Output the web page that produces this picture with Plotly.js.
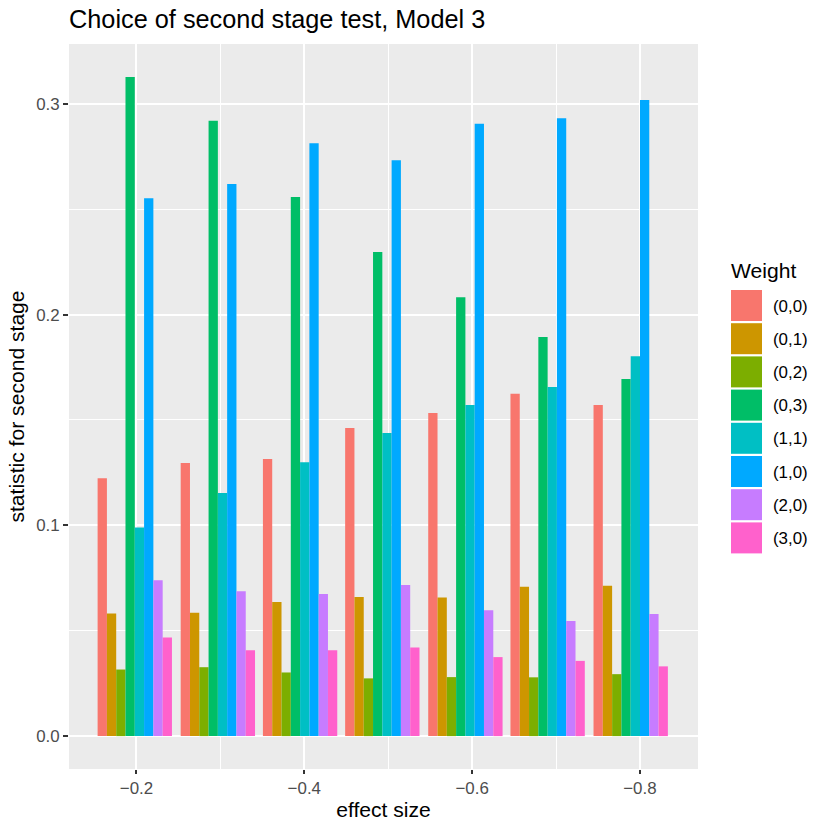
<!DOCTYPE html>
<html>
<head>
<meta charset="utf-8">
<script src="https://cdn.plot.ly/plotly-3.0.1.min.js"></script>
<style>html,body{margin:0;padding:0;background:#fff;}#chart{width:830px;height:830px;}</style>
</head>
<body>
<div id="chart"></div>
<script>
// ---- data ----
var effectSize = [-0.198, -0.297, -0.395, -0.493, -0.592, -0.690, -0.789];
var weights = ["(0,0)", "(0,1)", "(0,2)", "(0,3)", "(1,1)", "(1,0)", "(2,0)", "(3,0)"];
var w00 = [0.1224, 0.1296, 0.1315, 0.1462, 0.1533, 0.1625, 0.1571];
var w01 = [0.0582, 0.0585, 0.0636, 0.0660, 0.0658, 0.0709, 0.0713];
var w02 = [0.0316, 0.0327, 0.0302, 0.0274, 0.0280, 0.0279, 0.0294];
var w03 = [0.3128, 0.2920, 0.2558, 0.2297, 0.2082, 0.1894, 0.1694];
var w11 = [0.0990, 0.1153, 0.1300, 0.1438, 0.1571, 0.1656, 0.1803];
var w10 = [0.2552, 0.2620, 0.2813, 0.2732, 0.2906, 0.2932, 0.3018];
var w20 = [0.0740, 0.0687, 0.0674, 0.0717, 0.0597, 0.0546, 0.0579];
var w30 = [0.0468, 0.0407, 0.0407, 0.0421, 0.0375, 0.0357, 0.0331];
var xTickVals = [-0.2, -0.4, -0.6, -0.8];
var xMinorVals = [-0.3, -0.5, -0.7];
var yTickVals = [0.0, 0.1, 0.2, 0.3];
var yMinorVals = [0.05, 0.15, 0.25];

// ---- style ----
var colors = ["#F8766D", "#CD9600", "#7CAE00", "#00BE67", "#00BFC4", "#00A9FF", "#C77CFF", "#FF61CC"];
var series = [w00, w01, w02, w03, w11, w10, w20, w30];
var groupWidth = 0.0886;
var barW = groupWidth / weights.length;
var FONT = "'Liberation Sans', Arial, Helvetica, sans-serif";
var TICK_SIZE = 16.9, AXIS_TITLE_SIZE = 21.1, TITLE_SIZE = 25.3;

var traces = series.map(function (vals, i) {
  return {
    type: "bar",
    name: weights[i],
    x: effectSize,
    y: vals,
    width: barW,
    offset: groupWidth / 2 - (i + 1) * barW,
    marker: { color: colors[i], line: { width: 0 } },
    showlegend: false,
    hoverinfo: "x+y+name"
  };
});

// plot-area geometry in pixels
var L = 69, R = 698, T = 44, B = 769;
function px(x) { return (x - L) / (R - L); }
function py(y) { return (B - y) / (B - T); }

var shapes = [];
var annotations = [];
annotations.push({
  xref: "paper", yref: "paper", x: px(729), y: py(270), xanchor: "left", yanchor: "middle",
  text: "Weight", showarrow: false, font: { family: FONT, size: AXIS_TITLE_SIZE, color: "#000" }
});
weights.forEach(function (wname, i) {
  var top = 290 + i * 33.2;
  shapes.push({
    type: "rect", xref: "paper", yref: "paper",
    x0: px(731), x1: px(762), y0: py(top + 31), y1: py(top),
    fillcolor: colors[i], line: { width: 0 }
  });
  annotations.push({
    xref: "paper", yref: "paper", x: px(771), y: py(top + 16), xanchor: "left", yanchor: "middle",
    text: wname, showarrow: false, font: { family: FONT, size: TICK_SIZE, color: "#000" }
  });
});

var layout = {
  width: 830, height: 830,
  margin: { l: L, r: 830 - R, t: T, b: 830 - B, pad: 0 },
  paper_bgcolor: "#FFFFFF",
  plot_bgcolor: "#EBEBEB",
  barmode: "overlay",
  showlegend: false,
  font: { family: FONT, color: "#000" },
  title: {
    text: "Choice of second stage test, Model 3",
    x: 0, xref: "paper", xanchor: "left",
    y: 1 - 19 / 830, yref: "container", yanchor: "middle",
    font: { family: FONT, size: TITLE_SIZE, color: "#000" }
  },
  xaxis: {
    range: [-0.1196, -0.8692],
    tickvals: xTickVals,
    tickformat: ".1f",
    ticks: "outside", ticklen: 4, tickwidth: 2, tickcolor: "#333333",
    tickfont: { family: FONT, size: TICK_SIZE, color: "#4D4D4D" },
    showgrid: true, gridcolor: "#FFFFFF", gridwidth: 2,
    minor: { tickvals: xMinorVals, showgrid: true, gridcolor: "#FFFFFF", gridwidth: 1, ticks: "" },
    zeroline: false, showline: false,
    title: { text: "effect size", standoff: 4, font: { family: FONT, size: AXIS_TITLE_SIZE, color: "#000" } }
  },
  yaxis: {
    range: [-0.0156, 0.3284],
    tickvals: yTickVals,
    tickformat: ".1f",
    ticks: "outside", ticklen: 5, tickwidth: 2, tickcolor: "#333333",
    tickfont: { family: FONT, size: TICK_SIZE, color: "#4D4D4D" },
    showgrid: true, gridcolor: "#FFFFFF", gridwidth: 2,
    minor: { tickvals: yMinorVals, showgrid: true, gridcolor: "#FFFFFF", gridwidth: 1, ticks: "" },
    zeroline: false, showline: false,
    title: { text: "statistic for second stage", standoff: 5, font: { family: FONT, size: AXIS_TITLE_SIZE, color: "#000" } }
  },
  shapes: shapes,
  annotations: annotations
};

Plotly.newPlot("chart", traces, layout, { displayModeBar: false, staticPlot: true });
</script>
</body>
</html>
